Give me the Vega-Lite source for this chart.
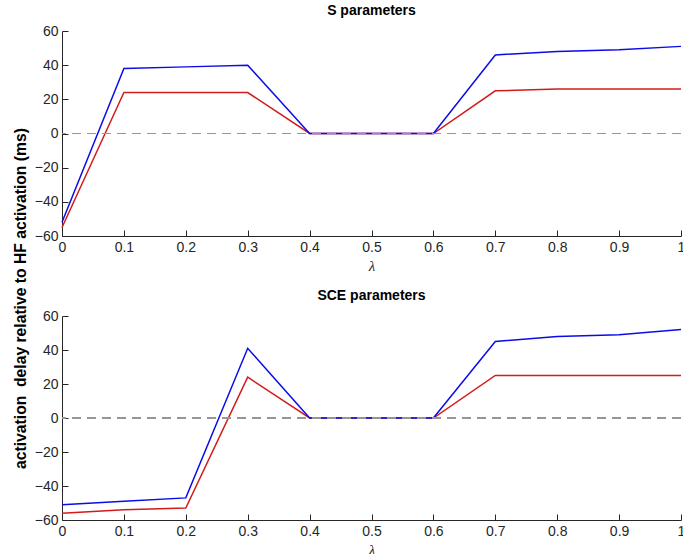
{
  "$schema": "https://vega.github.io/schema/vega-lite/v6.json",
  "padding": {"left": 12, "top": 4, "right": 2, "bottom": 1},
  "background": "white",
  "bounds": "flush",
  "spacing": 80,
  "datasets": {
    "delays": [
      {"panel": "S", "series": "red", "lambda": 0.0, "delay": -55},
      {"panel": "S", "series": "red", "lambda": 0.1, "delay": 24},
      {"panel": "S", "series": "red", "lambda": 0.2, "delay": 24},
      {"panel": "S", "series": "red", "lambda": 0.3, "delay": 24},
      {"panel": "S", "series": "red", "lambda": 0.4, "delay": 0},
      {"panel": "S", "series": "red", "lambda": 0.5, "delay": 0},
      {"panel": "S", "series": "red", "lambda": 0.6, "delay": 0},
      {"panel": "S", "series": "red", "lambda": 0.7, "delay": 25},
      {"panel": "S", "series": "red", "lambda": 0.8, "delay": 26},
      {"panel": "S", "series": "red", "lambda": 0.9, "delay": 26},
      {"panel": "S", "series": "red", "lambda": 1.0, "delay": 26},
      {"panel": "S", "series": "blue", "lambda": 0.0, "delay": -52},
      {"panel": "S", "series": "blue", "lambda": 0.1, "delay": 38},
      {"panel": "S", "series": "blue", "lambda": 0.2, "delay": 39},
      {"panel": "S", "series": "blue", "lambda": 0.3, "delay": 40},
      {"panel": "S", "series": "blue", "lambda": 0.4, "delay": 0},
      {"panel": "S", "series": "blue", "lambda": 0.5, "delay": 0},
      {"panel": "S", "series": "blue", "lambda": 0.6, "delay": 0},
      {"panel": "S", "series": "blue", "lambda": 0.7, "delay": 46},
      {"panel": "S", "series": "blue", "lambda": 0.8, "delay": 48},
      {"panel": "S", "series": "blue", "lambda": 0.9, "delay": 49},
      {"panel": "S", "series": "blue", "lambda": 1.0, "delay": 51},
      {"panel": "SCE", "series": "red", "lambda": 0.0, "delay": -56},
      {"panel": "SCE", "series": "red", "lambda": 0.1, "delay": -54},
      {"panel": "SCE", "series": "red", "lambda": 0.2, "delay": -53},
      {"panel": "SCE", "series": "red", "lambda": 0.3, "delay": 24},
      {"panel": "SCE", "series": "red", "lambda": 0.4, "delay": 0},
      {"panel": "SCE", "series": "red", "lambda": 0.5, "delay": 0},
      {"panel": "SCE", "series": "red", "lambda": 0.6, "delay": 0},
      {"panel": "SCE", "series": "red", "lambda": 0.7, "delay": 25},
      {"panel": "SCE", "series": "red", "lambda": 0.8, "delay": 25},
      {"panel": "SCE", "series": "red", "lambda": 0.9, "delay": 25},
      {"panel": "SCE", "series": "red", "lambda": 1.0, "delay": 25},
      {"panel": "SCE", "series": "blue", "lambda": 0.0, "delay": -51},
      {"panel": "SCE", "series": "blue", "lambda": 0.1, "delay": -49},
      {"panel": "SCE", "series": "blue", "lambda": 0.2, "delay": -47},
      {"panel": "SCE", "series": "blue", "lambda": 0.3, "delay": 41},
      {"panel": "SCE", "series": "blue", "lambda": 0.4, "delay": 0},
      {"panel": "SCE", "series": "blue", "lambda": 0.5, "delay": 0},
      {"panel": "SCE", "series": "blue", "lambda": 0.6, "delay": 0},
      {"panel": "SCE", "series": "blue", "lambda": 0.7, "delay": 45},
      {"panel": "SCE", "series": "blue", "lambda": 0.8, "delay": 48},
      {"panel": "SCE", "series": "blue", "lambda": 0.9, "delay": 49},
      {"panel": "SCE", "series": "blue", "lambda": 1.0, "delay": 52}
    ]
  },
  "config": {
    "view": {"stroke": null},
    "font": "Liberation Sans",
    "axis": {
      "grid": false,
      "domainColor": "#262626",
      "tickColor": "#262626",
      "labelColor": "#262626",
      "labelFont": "Liberation Sans",
      "labelFontSize": 14,
      "tickSize": -6,
      "labelPadding": 10,
      "labelOverlap": false,
      "labelFlush": false,
      "domainWidth": 1,
      "tickWidth": 1
    },
    "title": {
      "font": "Liberation Sans",
      "fontSize": 14,
      "fontWeight": "bold",
      "color": "#000000",
      "anchor": "middle",
      "offset": 6
    }
  },
  "vconcat": [
    {
      "title": "S parameters",
      "width": 619,
      "height": 205,
      "data": {"name": "delays"},
      "transform": [{"filter": "datum.panel === 'S'"}],
      "layer": [
        {
          "mark": {"type": "line", "strokeWidth": 1.5},
          "encoding": {
            "x": {
              "field": "lambda", "type": "quantitative",
              "scale": {"domain": [0, 1], "nice": false},
              "axis": {"title": "λ", "titleFont": "Liberation Serif", "titleFontStyle": "italic", "titleFontWeight": "normal", "titleFontSize": 15, "titleColor": "#262626", "titlePadding": 4, "values": [0, 0.1, 0.2, 0.3, 0.4, 0.5, 0.6, 0.7, 0.8, 0.9, 1], "tickCount": 11, "format": "~g", "labelPadding": 10}
            },
            "y": {
              "field": "delay", "type": "quantitative",
              "scale": {"domain": [-60, 60], "nice": false},
              "axis": {
                "title": "activation\u00a0 delay relative to HF activation (ms)",
                "titleFont": "Liberation Sans",
                "titleFontSize": 15.7,
                "titleFontWeight": "bold",
                "titleColor": "#000000",
                "titleX": -34,
                "titleY": 267,
                "values": [-60, -40, -20, 0, 20, 40, 60],
                "tickCount": 7
              }
            },
            "color": {
              "field": "series", "type": "nominal",
              "scale": {"domain": ["red", "blue"], "range": ["#d11c1c", "#0b0be8"]},
              "legend": null
            }
          }
        },
        {
          "mark": {"type": "rule", "color": "#969696", "strokeWidth": 1.1, "strokeDash": [9, 6]},
          "encoding": {"y": {"datum": 0}}
        }
      ]
    },
    {
      "title": "SCE parameters",
      "width": 619,
      "height": 204,
      "data": {"name": "delays"},
      "transform": [{"filter": "datum.panel === 'SCE'"}],
      "layer": [
        {
          "mark": {"type": "line", "strokeWidth": 1.5},
          "encoding": {
            "x": {
              "field": "lambda", "type": "quantitative",
              "scale": {"domain": [0, 1], "nice": false},
              "axis": {"title": "λ", "titleFont": "Liberation Serif", "titleFontStyle": "italic", "titleFontWeight": "normal", "titleFontSize": 15, "titleColor": "#262626", "titlePadding": 4, "values": [0, 0.1, 0.2, 0.3, 0.4, 0.5, 0.6, 0.7, 0.8, 0.9, 1], "tickCount": 11, "format": "~g", "labelPadding": 10}
            },
            "y": {
              "field": "delay", "type": "quantitative",
              "scale": {"domain": [-60, 60], "nice": false},
              "axis": {"title": null, "values": [-60, -40, -20, 0, 20, 40, 60], "tickCount": 7}
            },
            "color": {
              "field": "series", "type": "nominal",
              "scale": {"domain": ["red", "blue"], "range": ["#d11c1c", "#0b0be8"]},
              "legend": null
            }
          }
        },
        {
          "mark": {"type": "rule", "color": "#969696", "strokeWidth": 1.1, "strokeDash": [9, 6]},
          "encoding": {"y": {"datum": 0}}
        }
      ]
    }
  ]
}
